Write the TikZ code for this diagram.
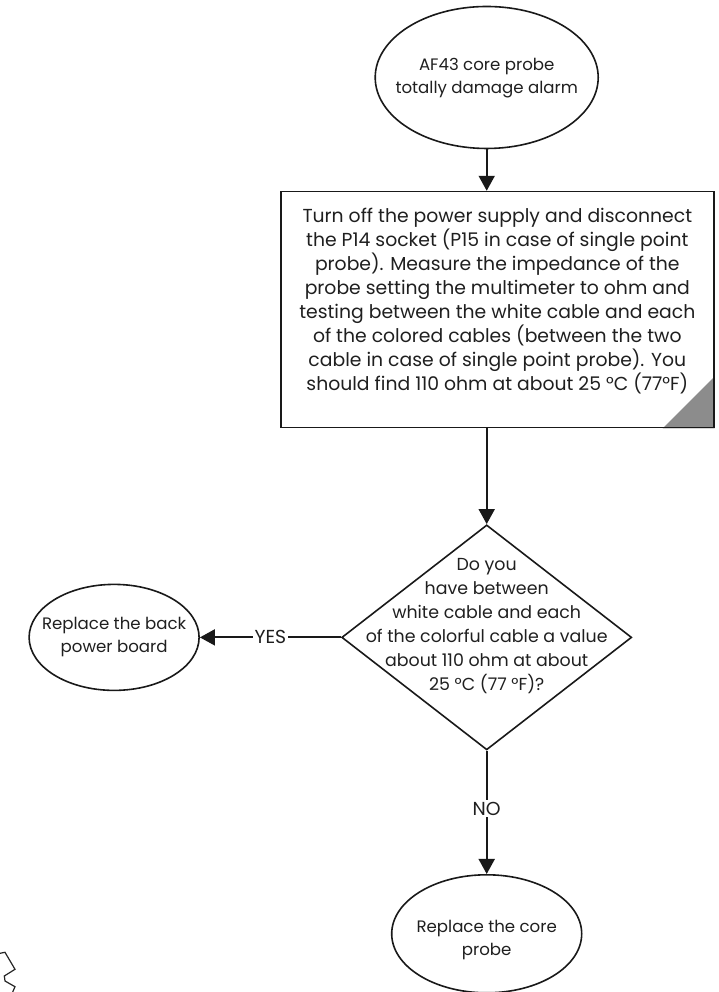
\documentclass[tikz,border=0pt]{standalone}
\usepackage{fontspec}
\setmainfont{Poppins}
\usetikzlibrary{arrows.meta,positioning,shapes.geometric,backgrounds}
\newcommand{\fcfont}{\fontsize{18.8pt}{24pt}\selectfont}
\newcommand{\fctermfont}{\fontsize{16.6pt}{23pt}\selectfont}
\newcommand{\fcaskfont}{\fontsize{17.4pt}{24pt}\selectfont}
\tikzset{
  fcbase/.style={draw=black!90,line width=1.6pt,inner sep=0pt},
  fcterm/.style={fcbase,ellipse},
  fcstep/.style={fcbase,rectangle},
  fcask/.style={fcbase,diamond},
  fctext/.style={align=center,text=black!88,font=\fcfont},
  fctermtext/.style={fctext,font=\fctermfont},
  fcasktext/.style={fctext,font=\fcaskfont},
  fcflow/.style={-{Triangle[length=15pt,width=16pt]},line width=1.8pt,draw=black!90},
  fctag/.style={fill=white,inner sep=2pt,text=black!88,font=\fcfont},
}

\begin{document}
\begin{tikzpicture}[x=1pt,y=1pt]
\useasboundingbox (0,0) rectangle (718,992);
\node[fcterm,minimum width=223pt,minimum height=142pt,
  label={[fctermtext,yshift=-1pt]center:AF43 core probe\\totally damage alarm}] (alarm) at (486.7,914.5) {};
\node[fcstep,below=41.5pt of alarm,xshift=10.6pt,minimum width=433pt,minimum height=236pt,
  label={[fctext,yshift=9pt]center:Turn off the power supply and disconnect\\
    the P14 socket (P15 in case of single point\\
    probe). Measure the impedance of the\\
    probe setting the multimeter to ohm and\\
    testing between the white cable and each\\
    of the colored cables (between the two\\
    cable in case of single point probe). You\\
    should find 110 ohm at about 25 °C (77°F)}] (measure) {};
\node[fcask,below=95.7pt of measure,xshift=-10.6pt,minimum width=290pt,minimum height=225pt,
  label={[fcasktext,yshift=11.7pt]center:Do you\\have between\\white cable and each\\
    of the colorful cable a value\\about 110 ohm at about\\25 °C (77 °F)?}] (check) {};
\node[fcterm,left=141pt of check,minimum width=170pt,minimum height=106pt,
  label={[fctermtext]center:Replace the back\\power board}] (board) {};
\node[fcterm,below=123.3pt of check,minimum width=190pt,minimum height=118pt,
  label={[fctermtext,yshift=-6pt]center:Replace the core\\probe}] (probe) {};
% connectors
\draw[fcflow] (alarm.south) -- (alarm.south |- measure.north);
\draw[fcflow] (check.north |- measure.south) -- (check.north);
\draw[fcflow] (check.west) -- node[fctag] {YES} (board.east);
\draw[fcflow] (check.south) -- node[fctag,pos=0.47] {NO} (probe.north);
\begin{scope}[on background layer]
\fill[black!45] (measure.south east) -- ++(-52,0) -- ++(52,52) -- cycle;
\end{scope}
% cut-off mark, bottom left
\draw[black!85,line width=1.2pt] (0,38.7) -- (5,39.7) -- (15,22.7) -- (4.3,16)
  -- (5,11) -- (15,5.3) -- (12.7,0);
\end{tikzpicture}
\end{document}
